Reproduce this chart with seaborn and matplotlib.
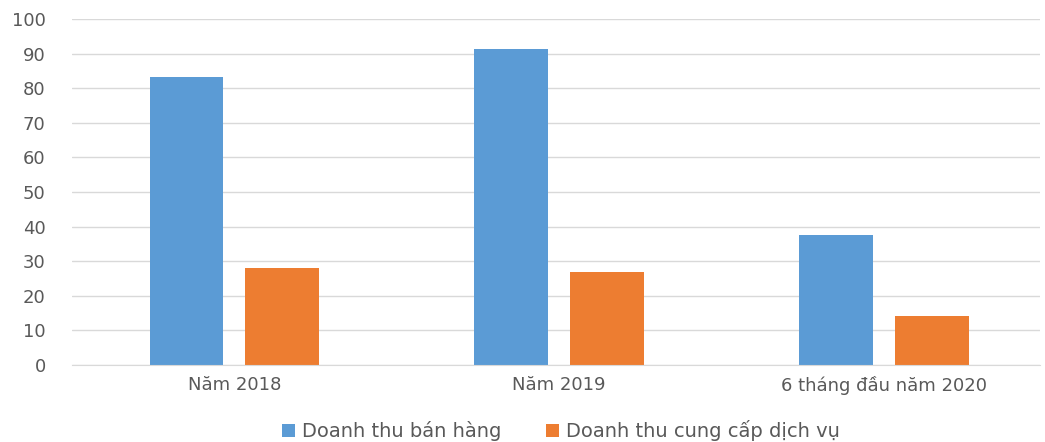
import matplotlib
matplotlib.use('Agg')
import matplotlib.pyplot as plt
import pandas as pd
import seaborn as sns

# Data
categories = ['Năm 2018', 'Năm 2019', '6 tháng đầu năm 2020']
series = ['Doanh thu bán hàng', 'Doanh thu cung cấp dịch vụ']
ban_hang = [83.2, 91.2, 37.6]
dich_vu = [28.0, 26.8, 14.2]

df = pd.DataFrame({
    'category': categories * 2,
    'series': [series[0]] * 3 + [series[1]] * 3,
    'value': ban_hang + dich_vu,
})

sns.set_style('white')
plt.rcParams['font.family'] = ['DejaVu Sans']

fig = plt.figure(figsize = (10.45, 4.42), dpi = 100)
ax = fig.add_axes([0.069, 0.174, 0.926, 0.783])

sns.barplot(data = df, x = 'category', y = 'value', hue = 'series',
            order = categories, hue_order = series,
            palette = ['#5B9BD5', '#ED7D31'], saturation = 1,
            width = 0.59, gap = 0.23, edgecolor = 'none', ax = ax)

ax.set_ylim(0, 100)
ax.set_xlim(-0.5, 2.48)
ax.set_yticks(range(0, 101, 10))
ax.yaxis.grid(True, color = '#D9D9D9', linewidth = 1)
ax.set_axisbelow(True)
for s in ['top', 'right', 'left']:
    ax.spines[s].set_visible(False)
ax.spines['bottom'].set_color('#D9D9D9')
ax.set_xlabel('')
ax.set_ylabel('')
ax.tick_params(axis = 'both', length = 0, labelsize = 13, colors = '#595959')
ax.tick_params(axis = 'x', pad = 8)
ax.tick_params(axis = 'y', pad = 19)

ax.legend(loc = 'center', bbox_to_anchor = (0.505, -0.19), ncol = 2,
          frameon = False, fontsize = 14, handlelength = 0.67, handleheight = 0.67,
          columnspacing = 2.3, handletextpad = 0.35, labelcolor = '#595959',
          borderpad = 0.1)

fig.savefig('out.png')
